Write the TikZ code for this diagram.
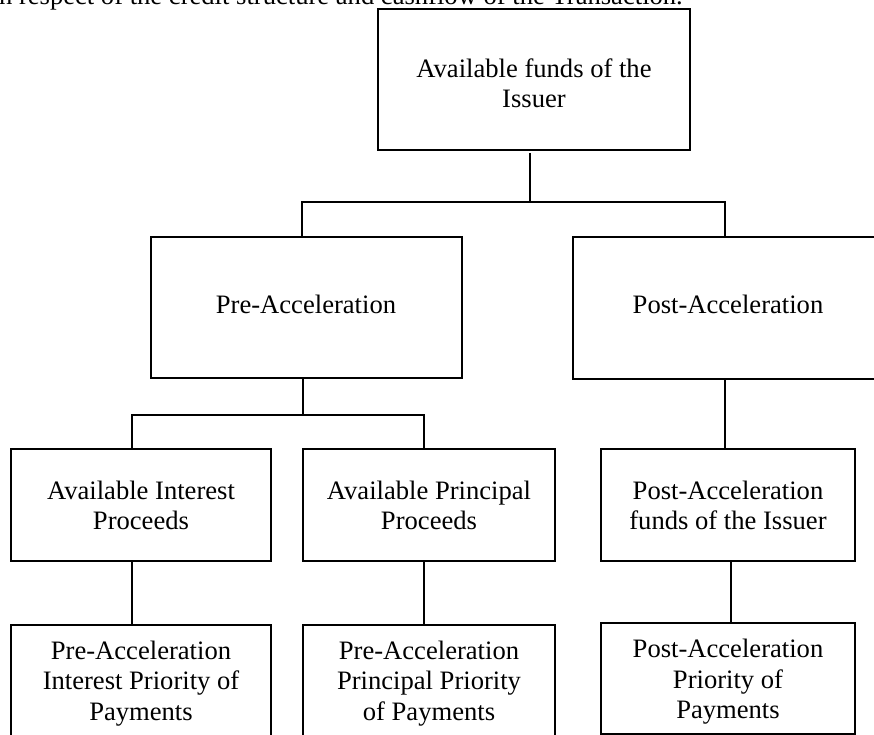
\documentclass[tikz,border=0pt]{standalone}
\usepackage{fontspec}
\setmainfont{Liberation Serif}
\begin{document}
\begin{tikzpicture}[x=1pt,y=-1pt,
  box/.style={draw=black, line width=1.8pt, inner sep=0pt},
  txt/.style={inner sep=0pt, align=center, text=black, font=\fontsize{26.6}{30.5}\selectfont},
  bar/.style={draw=black, line width=2.8pt},
  stem/.style={draw=black}]
\clip (0,0) rectangle (874,735);
\useasboundingbox (0,0) rectangle (874,735);
% cut-off running text
\node[txt, anchor=base east] (intro) at (683,4.5) {in respect of the credit structure and cashflow of the Transaction.};
% boxes
\node[box, minimum width=312pt, minimum height=141pt] (top) at (534,79.5) {};
\node[box, minimum width=311pt, minimum height=141pt] (pre) at (306.5,307.5) {};
\node[box, minimum width=311pt, minimum height=142pt] (post) at (728.5,308) {};
\node[box, minimum width=260pt, minimum height=112pt] (aip) at (141,505) {};
\node[box, minimum width=252pt, minimum height=112pt] (app) at (429,505) {};
\node[box, minimum width=254pt, minimum height=112pt] (paf) at (728,505) {};
\node[box, minimum width=260pt, minimum height=136pt] (pip) at (141,693) {};
\node[box, minimum width=252pt, minimum height=136pt] (ppp) at (429,693) {};
\node[box, minimum width=254pt, minimum height=111pt] (ppay) at (728,678.5) {};
% texts
\node[txt] (ttop) at (534,83.2) {Available funds of the\\Issuer};
\node[txt] (tpre) at (306,304.9) {Pre-Acceleration};
\node[txt] (tpost) at (728,304.9) {Post-Acceleration};
\node[txt] (taip) at (141,505.2) {Available Interest\\Proceeds};
\node[txt] (tapp) at (429,505.2) {Available Principal\\Proceeds};
\node[txt] (tpaf) at (728,505.2) {Post-Acceleration\\funds of the Issuer};
\node[txt] (tpip) at (141,683.3) {Pre-Acceleration\\Interest Priority of\\Payments};
\node[txt] (tppp) at (429,683.3) {Pre-Acceleration\\Principal Priority\\of Payments};
\node[txt] (tppay) at (728,681.8) {Post-Acceleration\\Priority of\\Payments};
% junction coordinates
\coordinate (j0) at (530,202);
\coordinate (j0l) at (302,202);
\coordinate (j0r) at (725,202);
\coordinate (j1) at (303,415);
\coordinate (j1l) at (132,415);
\coordinate (j1r) at (424,415);
\coordinate (j2) at (731,590);
% connectors
\draw[stem, line width=2pt] ([yshift=-2pt]top.south -| j0) -- (j0);
\draw[bar] (pre.north -| j0l) -- (j0l) -- (j0r) -- (post.north -| j0r);
\draw[stem, line width=2pt] (pre.south -| j1) -- (j1);
\draw[bar] (aip.north -| j1l) -- (j1l) -- (j1r) -- (app.north -| j1r);
\draw[stem, line width=2.8pt] (post.south -| j0r) -- (paf.north -| j0r);
\draw[stem, line width=2.6pt] (aip.south -| j1l) -- (pip.north -| j1l);
\draw[stem, line width=2.6pt] (app.south -| j1r) -- (ppp.north -| j1r);
\draw[stem, line width=2pt] (paf.south -| j2) -- (ppay.north -| j2);
\end{tikzpicture}
\end{document}
